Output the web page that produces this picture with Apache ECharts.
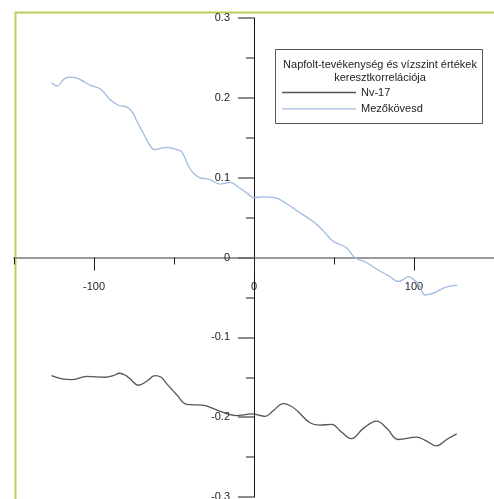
<!DOCTYPE html>
<html>
<head>
<meta charset="utf-8">
<script src="https://cdn.jsdelivr.net/npm/echarts@6/dist/echarts.min.js"></script>
<style>
html,body{margin:0;padding:0;background:#fff;}
#chart{width:494px;height:499px;}
</style>
</head>
<body>
<div id="chart"></div>
<script>
// Mezőkövesd (blue)
var blueLag = [-126.5,-123,-119,-116,-111,-106,-102.5,-96,-90,-85,-79,-76,-73,-69,-65,-62,-58,-54,-48,-45,-41,-38,-34,-28,-21,-15,-9,-4,0,6,13,20,28,37,43,49,54,58,63,70,77,85,90,93,96.5,100,103,107,110,114,120,127];
var blueCorr = [0.219,0.215,0.223,0.226,0.225,0.220,0.216,0.211,0.198,0.191,0.188,0.182,0.170,0.155,0.140,0.135,0.137,0.138,0.135,0.132,0.115,0.106,0.100,0.098,0.092,0.094,0.087,0.080,0.075,0.076,0.075,0.068,0.057,0.045,0.034,0.021,0.016,0.012,0.000,-0.006,-0.015,-0.024,-0.030,-0.028,-0.024,-0.028,-0.034,-0.047,-0.046,-0.043,-0.037,-0.035];
// Nv-17 (black)
var blackLag = [-126.5,-120,-114,-104.6,-93,-88,-84,-80,-77.5,-72.3,-67,-62,-58,-55,-48.3,-42,-32,-22,-11,-1.4,7,12,18.3,23,27,35,41,48.5,54.8,61,68.3,76.7,83,90.2,101.7,107,114.2,120.4,126.7];
var blackCorr = [-0.148,-0.152,-0.153,-0.149,-0.150,-0.148,-0.145,-0.148,-0.152,-0.160,-0.155,-0.148,-0.150,-0.157,-0.172,-0.184,-0.185,-0.192,-0.198,-0.196,-0.199,-0.192,-0.183,-0.186,-0.192,-0.207,-0.210,-0.209,-0.219,-0.227,-0.214,-0.205,-0.214,-0.228,-0.225,-0.229,-0.236,-0.228,-0.221];
var seriesNames = ['Nv-17','Mezőkövesd'];
var legendTitle = 'Napfolt-tevékenység és vízszint értékek\nkeresztkorrelációja';
var xMajorTicks = [-100,0,100];
var xMinorTicks = [-150,-50,50,150];

function pairs(xs, ys){ return xs.map(function(x,i){ return [x, ys[i]]; }); }

var font = '"Liberation Sans", Arial, sans-serif';
var chart = echarts.init(document.getElementById('chart'), null, {renderer:'canvas'});
chart.setOption({
  animation:false,
  backgroundColor:'#ffffff',
  grid:{left:14, right:0, top:18, bottom:2, containLabel:false, outerBoundsMode:'none'},
  title:{
    text: legendTitle, padding:0,
    left: 380, top: 59, textAlign:'center',
    textStyle:{fontFamily:font, fontSize:11, fontWeight:'normal', color:'#222', lineHeight:12.5}
  },
  legend:{
    orient:'vertical', left:282, top:86.5, padding:0,
    itemWidth:74, itemHeight:1.4, itemGap:4.4, icon:'rect',
    textStyle:{fontFamily:font, fontSize:11, color:'#222', lineHeight:12},
    data: seriesNames
  },
  graphic:[
    {type:'rect', left:13, top:10, silent:true,
     shape:{width:481, height:495}, style:{fill:'none', stroke:'#bccf5a', lineWidth:2}},
    {type:'rect', left:275, top:49, silent:true,
     shape:{width:207, height:74}, style:{fill:'rgba(255,255,255,0)', stroke:'#555', lineWidth:1}, z:-1}
  ],
  xAxis:[{
    type:'value', min:-150, max:150, interval:50, position:'bottom', offset:-239.5,
    axisLine:{show:true, onZero:false, lineStyle:{color:'#9a9a9a', width:2}},
    axisTick:{show:true, customValues:xMajorTicks, length:13, lineStyle:{color:'#222', width:1}},
    axisLabel:{show:true, customValues:xMajorTicks, margin:24, fontFamily:font, fontSize:11, color:'#222'},
    splitLine:{show:false}
  },{
    type:'value', min:-150, max:150, interval:50, position:'top', offset:-246.5,
    axisLine:{show:false, onZero:false},
    axisTick:{show:true, inside:false, customValues:xMinorTicks, length:7, lineStyle:{color:'#222', width:1}},
    axisLabel:{show:false},
    splitLine:{show:false}
  }],
  yAxis:{
    type:'value', min:-0.3, max:0.3, interval:0.1, position:'left', offset:-240,
    axisLine:{show:true, onZero:false, lineStyle:{color:'#111', width:1}},
    axisTick:{show:true, length:16, lineStyle:{color:'#666', width:1.5}},
    minorTick:{show:true, splitNumber:2, length:8, lineStyle:{color:'#666', width:1.5}},
    axisLabel:{margin:24, fontFamily:font, fontSize:11, color:'#222',
      formatter:function(v){ return String(Math.round(v*10)/10); }},
    splitLine:{show:false}
  },
  series:[
    {name:seriesNames[0], type:'line', xAxisIndex:0, data:pairs(blackLag, blackCorr), smooth:0.4,
     symbol:'none', showSymbol:false, lineStyle:{color:'#555', width:1.3}, itemStyle:{color:'#555'}},
    {name:seriesNames[1], type:'line', xAxisIndex:0, data:pairs(blueLag, blueCorr), smooth:0.4,
     symbol:'none', showSymbol:false, lineStyle:{color:'#9fbbde', width:1.3}, itemStyle:{color:'#9fbbde'}}
  ]
});
</script>
</body>
</html>
